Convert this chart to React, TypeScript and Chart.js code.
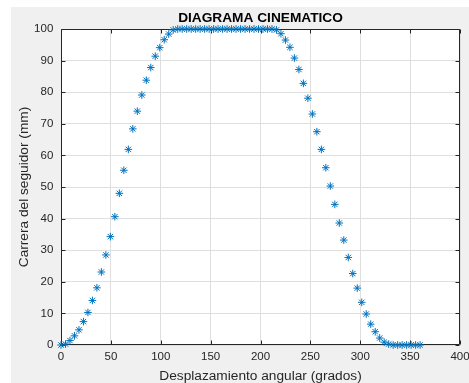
import { useEffect, useRef } from "react";
import { Chart, registerables } from "chart.js";

Chart.register(...registerables);

const titleText = "DIAGRAMA CINEMATICO";
const xLabel = "Desplazamiento angular (grados)";
const yLabel = "Carrera del seguidor (mm)";

const angles = [
  0, 4.5, 9, 13.5, 18, 22.5, 27, 31.5, 36, 40.5, 45, 49.5, 54, 58.5, 63, 67.5, 72, 76.5, 81, 85.5,
  90, 94.5, 99, 103.5, 108, 112.5, 117, 121.5, 126, 130.5, 135, 139.5, 144, 148.5, 153, 157.5, 162,
  166.5, 171, 175.5, 180, 184.5, 189, 193.5, 198, 202.5, 207, 211.5, 216, 220.5, 225, 229.5, 234,
  238.5, 243, 247.5, 252, 256.5, 261, 265.5, 270, 274.5, 279, 283.5, 288, 292.5, 297, 301.5, 306,
  310.5, 315, 319.5, 324, 328.5, 333, 337.5, 342, 346.5, 351, 355.5, 360,
];

const displacement = [
  0, 0.3, 1.4, 2.9, 4.8, 7.4, 10.3, 14.1, 18.1, 23.1, 28.5, 34.3, 40.6, 48.0, 55.3, 61.9, 68.4,
  74.0, 79.1, 83.8, 87.8, 91.4, 94.1, 96.6, 98.4, 99.7, 100,
  100, 100, 100, 100, 100, 100, 100, 100, 100, 100, 100, 100, 100, 100, 100, 100, 100, 100, 100,
  100, 100,
  99.7, 98.5, 96.5, 94.2, 90.8, 87.2, 82.8, 78.1, 73.1, 67.5, 61.9, 56.1, 50.3, 44.5, 38.6, 33.2,
  27.7, 22.6, 18.0, 13.5, 9.8, 6.6, 4.2, 2.2, 0.9, 0.3,
  0, 0, 0, 0, 0, 0, 0,
];

const xTicks = [0, 50, 100, 150, 200, 250, 300, 350, 400];
const yTicks = [0, 10, 20, 30, 40, 50, 60, 70, 80, 90, 100];

const FONT = "'Liberation Sans', Arial, Helvetica, sans-serif";
const AXIS_COLOR = "#262626";

const figurePlugin = {
  id: "matlabFigure",
  beforeDraw(chart: any) {
    const { ctx, chartArea: a } = chart;
    ctx.save();
    ctx.fillStyle = "#ffffff";
    ctx.fillRect(0, 0, chart.width, chart.height);
    ctx.fillStyle = "#f0f0f0";
    ctx.fillRect(11, 7, chart.width - 11, chart.height - 7);
    ctx.fillStyle = "#ffffff";
    ctx.fillRect(a.left, a.top, a.right - a.left, a.bottom - a.top);
    ctx.restore();
  },
  beforeDatasetsDraw(chart: any) {
    const { ctx, chartArea: a, scales } = chart;
    const xs = scales.x;
    const ys = scales.y;
    const L = Math.round(a.left) + 0.5;
    const R = Math.round(a.right) - 0.5;
    const T = Math.round(a.top) + 0.5;
    const B = Math.round(a.bottom) - 0.5;
    ctx.save();
    ctx.strokeStyle = AXIS_COLOR;
    ctx.lineWidth = 1;
    ctx.beginPath();
    ctx.rect(L, T, R - L, B - T);
    const tl = 4;
    xTicks.forEach((v) => {
      const px = Math.round(xs.getPixelForValue(v)) + 0.5;
      ctx.moveTo(px, B);
      ctx.lineTo(px, B - tl);
      ctx.moveTo(px, T);
      ctx.lineTo(px, T + tl);
    });
    yTicks.forEach((v) => {
      const py = Math.round(ys.getPixelForValue(v)) + 0.5;
      ctx.moveTo(L, py);
      ctx.lineTo(L + tl, py);
      ctx.moveTo(R, py);
      ctx.lineTo(R - tl, py);
    });
    ctx.stroke();
    ctx.restore();
  },
  afterDraw(chart: any) {
    const { ctx, chartArea: a } = chart;
    ctx.save();
    ctx.fillStyle = "#000000";
    ctx.font = `bold 13.7px ${FONT}`;
    ctx.textAlign = "center";
    ctx.textBaseline = "alphabetic";
    ctx.fillText(titleText, (a.left + a.right) / 2, 21.5);
    ctx.restore();
  },
};

export default function App() {
  const canvasRef = useRef<HTMLCanvasElement | null>(null);

  useEffect(() => {
    if (!canvasRef.current) return;
    Chart.defaults.font.family = FONT;
    const chart = new Chart(canvasRef.current, {
      type: "scatter",
      data: {
        datasets: [
          {
            data: angles.map((x, i) => ({ x, y: displacement[i] })),
            pointStyle: "star",
            pointRadius: 3.8,
            pointHoverRadius: 3.8,
            borderWidth: 1,
            borderColor: "#0072BD",
            backgroundColor: "#0072BD",
            clip: false as any,
          },
        ],
      },
      options: {
        animation: false,
        responsive: false,
        maintainAspectRatio: false,
        devicePixelRatio: 1,
        events: [],
        layout: { padding: { left: 0, right: 9, top: 29, bottom: 0 } },
        plugins: {
          legend: { display: false },
          tooltip: { enabled: false },
          title: { display: false },
        },
        scales: {
          x: {
            type: "linear",
            min: 0,
            max: 400,
            border: { display: false },
            grid: { color: "#dfdfdf", lineWidth: 1, drawTicks: false },
            ticks: {
              stepSize: 50,
              color: AXIS_COLOR,
              font: { family: FONT, size: 11.5 },
              padding: 5.4,
              maxRotation: 0,
              autoSkip: false,
            },
            title: {
              display: true,
              text: xLabel,
              color: AXIS_COLOR,
              font: { family: FONT, size: 13.7 },
              padding: { top: 0, bottom: -1.6 },
            },
            afterFit(scale: any) {
              scale.height = 38;
              scale.paddingLeft = 0;
              scale.paddingRight = 0;
            },
          },
          y: {
            type: "linear",
            min: 0,
            max: 100,
            border: { display: false },
            grid: { color: "#dfdfdf", lineWidth: 1, drawTicks: false },
            ticks: {
              stepSize: 10,
              color: AXIS_COLOR,
              font: { family: FONT, size: 11.5 },
              padding: 7.7,
            },
            title: {
              display: true,
              text: yLabel,
              color: AXIS_COLOR,
              font: { family: FONT, size: 13.7 },
              padding: { top: 16.5, bottom: 0 },
            },
            afterFit(scale: any) {
              scale.width = 61;
              scale.paddingTop = 0;
              scale.paddingBottom = 0;
            },
          },
        },
      },
      plugins: [figurePlugin],
    });
    return () => chart.destroy();
  }, []);

  return (
    <div style={{ position: "absolute", left: 0, top: 0, width: 469, height: 383 }}>
      <canvas ref={canvasRef} width={469} height={383} style={{ display: "block" }} />
    </div>
  );
}
